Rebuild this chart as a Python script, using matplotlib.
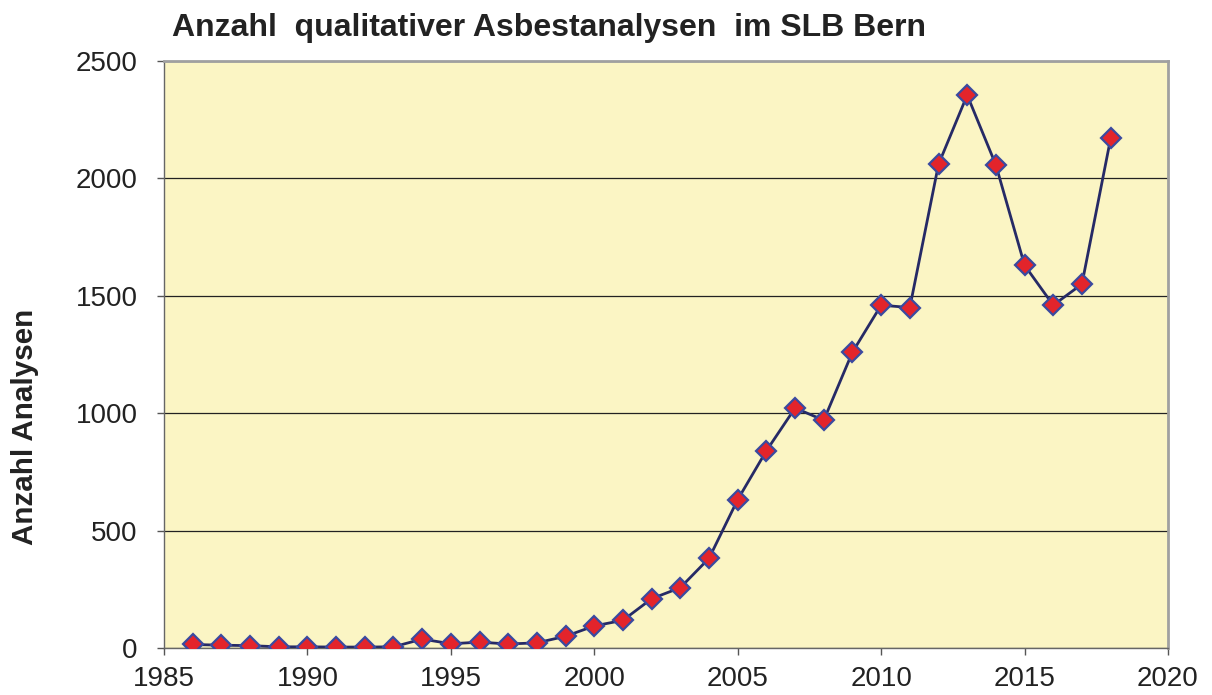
import matplotlib.pyplot as plt

plt.rcParams['font.family'] = ['Liberation Sans', 'DejaVu Sans']

years = list(range(1986, 2019))
counts = [15, 12, 10, 5, 5, 4, 4, 5, 38, 18, 25, 17, 22, 50, 94, 118,
          210, 257, 382, 632, 840, 1022, 970, 1260, 1460, 1450, 2060,
          2355, 2057, 1630, 1460, 1550, 2170]

title = "Anzahl  qualitativer Asbestanalysen  im SLB Bern"
ylabel = "Anzahl Analysen"

fig = plt.figure(figsize=(12.12, 6.95), dpi=100)
ax = fig.add_axes([164 / 1212, 47 / 695, 1004 / 1212, 587 / 695])
ax.set_facecolor('#fbf5c4')

ax.plot(years, counts, color='#262a66', lw=2.0, marker='D', ms=10.5,
        markerfacecolor='#e3242b', markeredgecolor='#3a4aa0', mew=1.6, zorder=3)

ax.set_xlim(1985, 2020)
ax.set_ylim(0, 2500)
ax.set_xticks(range(1985, 2021, 5))
ax.set_yticks(range(0, 2501, 500))
ax.yaxis.grid(True, color='#222222', lw=0.9)
ax.set_axisbelow(True)
ax.tick_params(labelsize=20, length=5, width=1, color='#555555',
               labelcolor='#222222')
ax.tick_params(axis='y', pad=14)
ax.tick_params(axis='x', pad=8)

for side in ['top', 'right']:
    ax.spines[side].set_color('#a0a0a0')
    ax.spines[side].set_linewidth(2)
for side in ['left', 'bottom']:
    ax.spines[side].set_color('#666666')
    ax.spines[side].set_linewidth(1)

fig.text(172 / 1212, 1 - 28 / 695, title, fontsize=23, fontweight='bold',
         ha='left', va='center', color='#222222')
fig.text(25 / 1212, 1 - 427 / 695, ylabel, fontsize=21.3, fontweight='bold',
         rotation=90, ha='center', va='center', color='#222222')

fig.savefig('out.png', dpi=100)
